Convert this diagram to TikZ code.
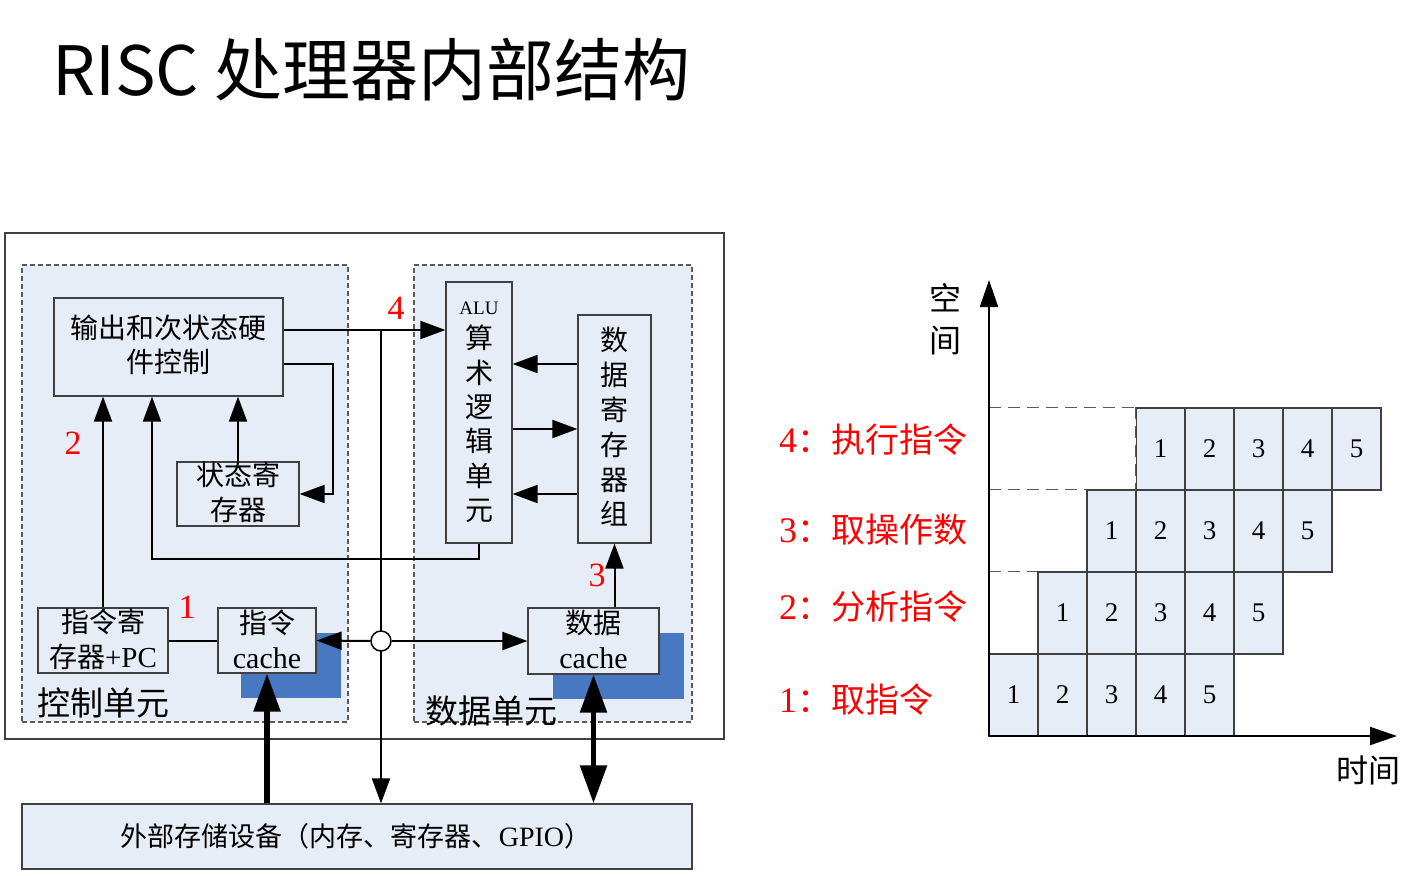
\documentclass[tikz,border=0pt]{standalone}
\usepackage{fontspec}
\setmainfont{Liberation Serif}
\newfontfamily\cjk{Noto Sans CJK SC}
\usetikzlibrary{arrows.meta,calc}
\definecolor{lb}{RGB}{231,237,247}
\definecolor{shadowblue}{RGB}{71,120,193}
\definecolor{bordergray}{RGB}{64,64,64}
\definecolor{dashgray}{RGB}{90,90,90}
\newcommand\myfs[2]{\fontsize{#1}{#2}\selectfont}
\begin{document}
\begin{tikzpicture}[x=1pt,y=-1pt,
  box/.style={draw=bordergray, fill=lb, line width=1.2pt, inner sep=0pt},
  unitbox/.style={draw=dashgray, fill=lb, line width=1.2pt, dash pattern=on 5pt off 3pt, inner sep=0pt},
  shadowbox/.style={fill=shadowblue, draw=none, inner sep=0pt},
  frame/.style={draw=bordergray, line width=1.2pt, inner sep=0pt},
  conn/.style={line width=2pt, -{Triangle[length=25pt,width=18pt]}},
  plainline/.style={line width=2pt},
  fatconn/.style={line width=5.5pt, -{Triangle[length=38pt,width=26pt]}},
  fatboth/.style={line width=5.5pt, {Triangle[length=38pt,width=26pt]}-{Triangle[length=38pt,width=26pt]}},
  lbl/.style={font={\cjk\myfs{28}{34}}, align=center, inner sep=0pt},
  rednum/.style={text=red, font={\myfs{34}{34}}, inner sep=0pt},
  redlbl/.style={text=red, font={\cjk\myfs{34}{34}}, inner sep=0pt, anchor=west},
  cell/.style={draw=bordergray, fill=lb, line width=1.2pt, minimum width=49pt, minimum height=82pt, inner sep=0pt, font={\myfs{27}{27}}},
  dashline/.style={draw=dashgray, line width=1.5pt, dash pattern=on 12pt off 7pt},
  axis/.style={line width=2pt, -{Triangle[length=27pt,width=18pt]}}
]
\useasboundingbox[fill=white] (0,0) rectangle (1418,875);

% title
\node[inner sep=0pt, anchor=west, font={\cjk\myfs{68}{68}}] (title) at (52,70) {RISC 处理器内部结构};

% frames and units
\node[frame, minimum width=719pt, minimum height=506pt] (outer) at (364.5,486) {};
\node[unitbox, minimum width=326pt, minimum height=457pt] (cu) at (185,493.5) {};
\node[unitbox, minimum width=278pt, minimum height=457pt] (du) at (553,493.5) {};

% shadows
\node[shadowbox, minimum width=100pt, minimum height=65pt] (ish) at (291,665.5) {};
\node[shadowbox, minimum width=131pt, minimum height=66pt] (dsh) at (618.5,666) {};

% boxes
\node[box, minimum width=229pt, minimum height=98pt] (ctl) at (168.5,347) {};
\node[box, minimum width=122pt, minimum height=64pt] (sreg) at (238,494) {};
\node[box, minimum width=130pt, minimum height=65pt] (ir) at (103,640.5) {};
\node[box, minimum width=98pt, minimum height=65pt] (icache) at (267,640.5) {};
\node[box, minimum width=66pt, minimum height=261pt] (alu) at (479,412.5) {};
\node[box, minimum width=73pt, minimum height=228pt] (dreg) at (614.5,429) {};
\node[box, minimum width=131pt, minimum height=66pt] (dcache) at (593.5,641) {};
\node[box, minimum width=670pt, minimum height=65pt] (ext) at (357,836.5) {};

% connectors
\coordinate (a4) at ([yshift=17pt]ctl.east);
\coordinate (a5) at ([yshift=-17pt]ctl.east);
\coordinate (jc) at (381,641);
\coordinate (c2) at ([xshift=-16.5pt]ctl.south);
\coordinate (r1) at ([yshift=65pt]dreg.west);
\coordinate (r2) at (dreg.west);
\coordinate (r3) at ([yshift=-65pt]dreg.west);

\draw[conn] (a4) -- (a4 -| alu.west);
\draw[conn] (jc |- a4) -- (jc |- ext.north);
\draw[conn] (a5) -- ++(49,0) |- (sreg.east);
\draw[conn] (sreg.north) -- (sreg.north |- ctl.south);
\draw[conn] (alu.south) -- ++(0,15) -| (c2);
\draw[conn] (ir.north) -- (ir.north |- ctl.south);
\draw[plainline] (ir.east) -- (icache.west);
\node[circle, draw, fill=white, line width=1.5pt, minimum size=20pt, inner sep=0pt] (jn) at (jc) {};
\draw[conn] (jn.west) -- (icache.east);
\draw[conn] (jn.east) -- (dcache.west);
\draw[conn] (dreg.south |- dcache.north) -- (dreg.south);
\draw[conn] (r1) -- (r1 -| alu.east);
\draw[conn] (r2 -| alu.east) -- (r2);
\draw[conn] (r3) -- (r3 -| alu.east);
\draw[fatconn] (icache.south |- ext.north) -- (icache.south);
\draw[fatboth] (dcache.south) -- (dcache.south |- ext.north);

% box texts
\node[lbl] (ctlt) at (168.5,345) {输出和次状态硬\\件控制};
\node[lbl, font={\cjk\myfs{28}{35}}] (sregt) at (238,492) {状态寄\\存器};
\node[lbl, font={\cjk\myfs{28}{35}}] (irt) at (103,639.5) {指令寄\\存器{\rmfamily\myfs{29}{35}+PC}};
\node[lbl, font={\cjk\myfs{28}{35}}] (icachet) at (267,639.5) {指令\\{\rmfamily\myfs{30}{35}cache}};
\node[lbl, font={\cjk\myfs{28}{35}}] (dcachet) at (593.5,639.5) {数据\\{\rmfamily\myfs{30}{35}cache}};
\node[inner sep=0pt, font={\myfs{19}{19}}] (alua) at (479,308) {ALU};
\node[lbl, font={\cjk\myfs{28}{34.4}}] (alut) at (479,424) {算\\术\\逻\\辑\\单\\元};
\node[lbl, font={\cjk\myfs{28}{34.8}}] (dregt) at (614.5,427) {数\\据\\寄\\存\\器\\组};
\node[lbl, font={\cjk\myfs{27}{27}}] (extt) at (356,836) {外部存储设备（内存、寄存器、{\rmfamily\myfs{28}{28}GPIO}）};
\node[lbl, font={\cjk\myfs{33}{33}}] (cut) at (103,703) {控制单元};
\node[lbl, font={\cjk\myfs{33}{33}}] (dut) at (491,711) {数据单元};

% red step numbers
\node[rednum] (n4) at (396,308) {4};
\node[rednum] (n2) at (73,443) {2};
\node[rednum] (n1) at (187,607) {1};
\node[rednum] (n3) at (597,575) {3};

% right chart
\coordinate (O) at (989,736);
\coordinate (xend) at (1397,736);
\coordinate (yend) at (989,280);
\foreach \r/\s in {1/0,2/1,3/2,4/3} {
  \foreach \k in {1,...,5} {
    \pgfmathsetmacro\cx{989+49*(\s+\k-1)+24.5}
    \pgfmathsetmacro\cy{736-82*(\r-1)-41}
    \node[cell] (c\r\k) at (\cx,\cy) {\k};
  }
}
\draw[white, line width=1.8pt] (c41.north west) -- (c41.south west);
\draw[dashline] (c41.north west) -- (c41.south west);
\draw[dashline] (O |- c41.north) -- (c41.north west);
\draw[dashline] (O |- c31.north) -- (c31.north west);
\draw[dashline] (O |- c21.north) -- (c21.north west);
\draw[axis] (O) -- (xend);
\draw[axis] (O) -- (yend);

\node[lbl, font={\cjk\myfs{32}{42}}] (kj) at (945,319) {空\\间};
\node[lbl, font={\cjk\myfs{32}{32}}] (sj) at (1368,770) {时间};

\node[redlbl] (s4) at (779,440) {{\rmfamily\myfs{36}{36}4}：执行指令};
\node[redlbl] (s3) at (779,530) {{\rmfamily\myfs{36}{36}3}：取操作数};
\node[redlbl] (s2) at (779,607) {{\rmfamily\myfs{36}{36}2}：分析指令};
\node[redlbl] (s1) at (779,700) {{\rmfamily\myfs{36}{36}1}：取指令};
\end{tikzpicture}
\end{document}
